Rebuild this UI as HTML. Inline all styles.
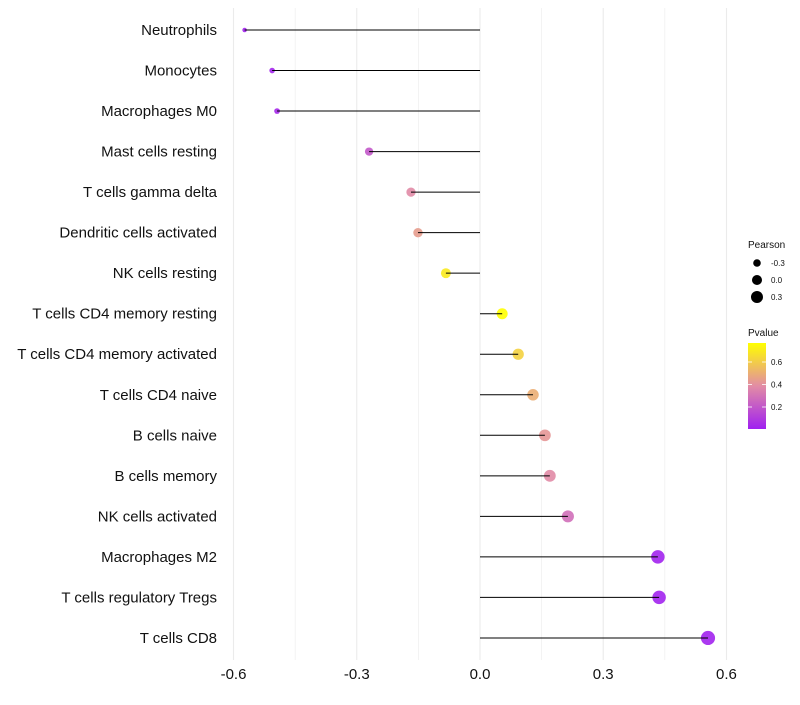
<!DOCTYPE html>
<html><head><meta charset="utf-8"><style>
body{margin:0;background:#fff;font-family:"Liberation Sans",sans-serif}
</style></head><body>
<svg id="c" width="800" height="700" font-family="Liberation Sans, sans-serif"></svg>
<script>
const categories=["Neutrophils","Monocytes","Macrophages M0","Mast cells resting","T cells gamma delta","Dendritic cells activated","NK cells resting","T cells CD4 memory resting","T cells CD4 memory activated","T cells CD4 naive","B cells naive","B cells memory","NK cells activated","Macrophages M2","T cells regulatory  Tregs ","T cells CD8"];
const pearson=[-0.573,-0.506,-0.494,-0.270,-0.168,-0.151,-0.083,0.054,0.093,0.129,0.158,0.170,0.214,0.433,0.436,0.555];
const pvalue=[0.01,0.02,0.03,0.2,0.38,0.44,0.7,0.78,0.62,0.5,0.42,0.38,0.28,0.01,0.01,0.01];
const xTicks=[-0.6,-0.3,0.0,0.3,0.6];
const xTickLabels=["-0.6","-0.3","0.0","0.3","0.6"];
const sizeLegend=[-0.3,0.0,0.3];
const colorTicks=[0.2,0.4,0.6];
const NS="http://www.w3.org/2000/svg",svg=document.getElementById('c');
function mk(t,a,p){const e=document.createElementNS(NS,t);for(const k in a)e.setAttribute(k,a[k]);(p||svg).appendChild(e);return e;}
const x=v=>480+v*410.8;
const y=i=>30+i*40.53;
const r=p=>Math.sqrt(4+40*(p+0.6));
const pmin=0,pmax=0.77;
const cA=[160,32,240],cM=[226,140,165],cB=[255,255,0];
function col(p){let t=Math.max(0,Math.min(1,(p-pmin)/(pmax-pmin)));let a,b,u;if(t<0.5){a=cA;b=cM;u=t/0.5;}else{a=cM;b=cB;u=(t-0.5)/0.5;}return `rgb(${a.map((v,i)=>Math.round(v+(b[i]-v)*u)).join(',')})`;}
for(let k=-4;k<=4;k++){const v=k*0.15;const g=mk('line',{x1:x(v),x2:x(v),y1:8,y2:660,stroke:'#ebebeb','stroke-width':k%2?0.6:1.1});

}
xTicks.forEach((v,i)=>{const t=mk('text',{x:x(v),y:679,'text-anchor':'middle','font-size':15,fill:'#111'});t.textContent=xTickLabels[i];

});
categories.forEach((c,i)=>{
const t=mk('text',{x:217,y:y(i)+5,'text-anchor':'end','font-size':15,fill:'#111'});t.textContent=c;


const d=mk('circle',{cx:x(pearson[i]),cy:y(i),r:r(pearson[i]),fill:col(pvalue[i]),'fill-opacity':0.9});


const l=mk('line',{x1:x(0),x2:x(pearson[i]),y1:y(i),y2:y(i),stroke:'#000','stroke-width':1});


});
let tt=mk('text',{x:748,y:248,'font-size':10,fill:'#111'});tt.textContent='Pearson';


sizeLegend.forEach((v,i)=>{const cy=263+i*17;
const c=mk('circle',{cx:757,cy:cy,r:r(v)*0.95,fill:'#000'});


const t=mk('text',{x:771,y:cy+3,'font-size':8,fill:'#111'});t.textContent=v.toFixed(1);

});
tt=mk('text',{x:748,y:336,'font-size':10,fill:'#111'});tt.textContent='Pvalue';


const defs=mk('defs',{});const gr=mk('linearGradient',{id:'g',x1:0,y1:1,x2:0,y2:0},defs);
mk('stop',{offset:0,'stop-color':col(0)},gr);mk('stop',{offset:0.5,'stop-color':col(0.385)},gr);mk('stop',{offset:1,'stop-color':col(0.77)},gr);
const bar=mk('rect',{x:748,y:343,width:18,height:86,fill:'url(#g)'});


colorTicks.forEach(v=>{const cy=429.5-v/0.2*22.5;
mk('line',{x1:748,x2:752,y1:cy,y2:cy,stroke:'#fff','stroke-width':0.8});mk('line',{x1:762,x2:766,y1:cy,y2:cy,stroke:'#fff','stroke-width':0.8});
const t=mk('text',{x:771,y:cy+3,'font-size':8,fill:'#111'});t.textContent=v.toFixed(1);

});
</script>
</body></html>
